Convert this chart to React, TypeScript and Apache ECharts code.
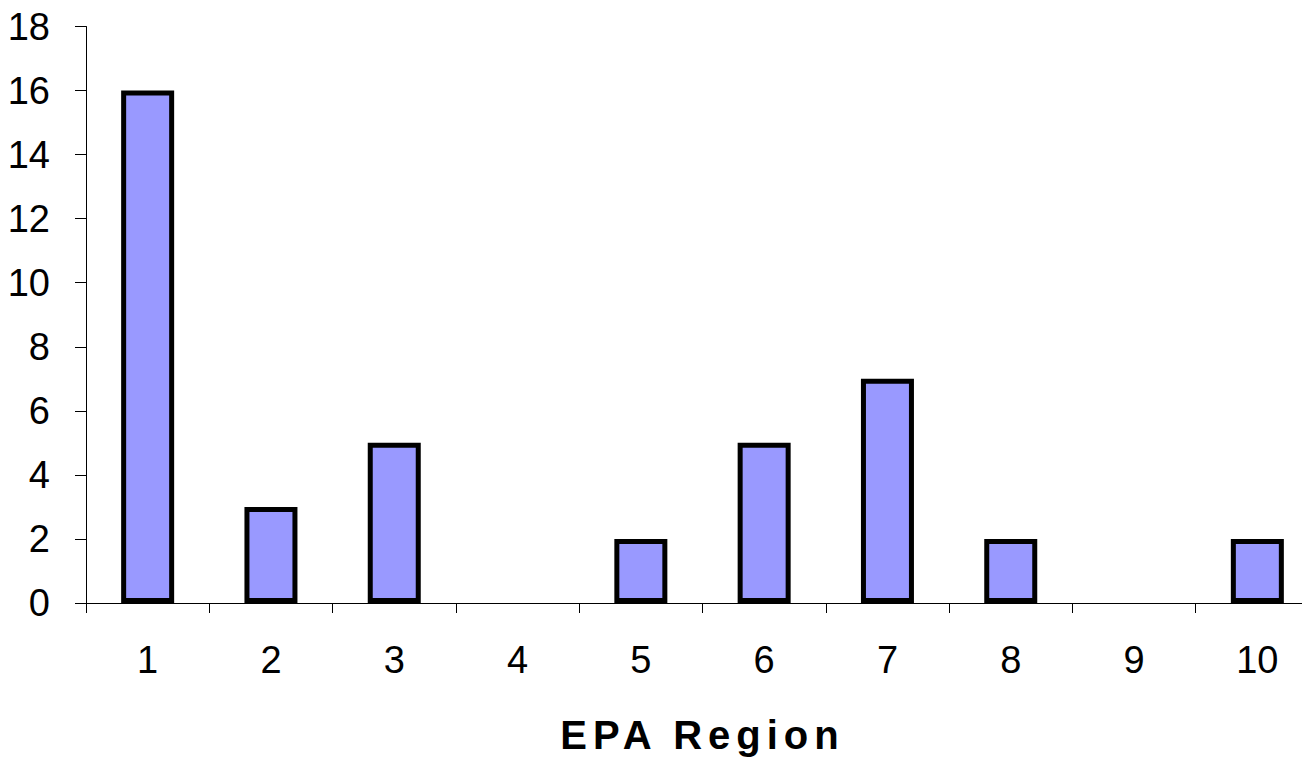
import React, { useEffect, useRef } from "react";
import * as echarts from "echarts";

const categories = ["1", "2", "3", "4", "5", "6", "7", "8", "9", "10"];
const counts = [16, 3, 5, 0, 2, 5, 7, 2, 0, 2];
const yTicks = { min: 0, max: 18, interval: 2 };
const xAxisTitle = "EPA Region";

const FONT = "'Liberation Sans', Arial, sans-serif";

export default function App() {
  const ref = useRef<HTMLDivElement>(null);
  useEffect(() => {
    if (!ref.current) return;
    const chart = echarts.init(ref.current, null, { renderer: "svg" });
    chart.setOption({
      animation: false,
      backgroundColor: "#ffffff",
      grid: { left: 86, top: 26.5, bottom: 157, right: 0, containLabel: false },
      xAxis: {
        type: "category",
        data: categories,
        name: xAxisTitle,
        nameLocation: "middle",
        nameGap: 112,
        nameTextStyle: {
          fontFamily: FONT,
          fontSize: 40,
          fontWeight: "bold",
          color: "#000",
        },
        axisLine: { show: true, lineStyle: { color: "#000", width: 1 } },
        axisTick: { show: true, alignWithLabel: false, length: 10, lineStyle: { color: "#000" } },
        axisLabel: { fontFamily: FONT, fontSize: 38, color: "#000", margin: 38 },
        splitLine: { show: false },
      },
      yAxis: {
        type: "value",
        min: yTicks.min,
        max: yTicks.max,
        interval: yTicks.interval,
        axisLine: { show: true, lineStyle: { color: "#000", width: 1 } },
        axisTick: { show: true, length: 11, lineStyle: { color: "#000" } },
        axisLabel: { fontFamily: FONT, fontSize: 38, color: "#000", margin: 36 },
        splitLine: { show: false },
      },
      series: [
        {
          type: "bar",
          data: counts.map((v) => ({
            value: v,
            itemStyle: v === 0 ? { borderWidth: 0 } : undefined,
          })),
          barWidth: 53,
          itemStyle: { color: "#9999FF", borderColor: "#000", borderWidth: 5 },
        },
      ],
    });
    const svgTexts = ref.current.querySelectorAll("text");
    svgTexts.forEach((t) => {
      if (t.textContent === xAxisTitle) {
        (t as SVGTextElement).style.letterSpacing = "6px";
      }
    });
    return () => chart.dispose();
  }, []);
  return (
    <div style={{ position: "fixed", left: 0, top: 0, width: 1302, height: 760, overflow: "hidden" }}>
      <div ref={ref} style={{ width: 1319, height: 760 }} />
    </div>
  );
}
